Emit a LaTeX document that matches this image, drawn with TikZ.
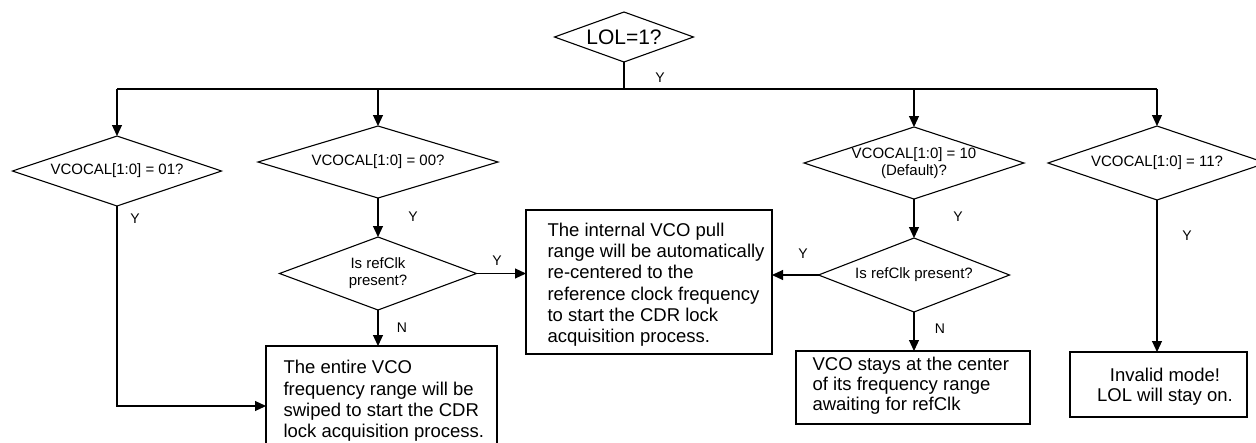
\documentclass[tikz,border=0pt]{standalone}
\usepackage{fontspec}
\setmainfont{Liberation Sans}
\usetikzlibrary{shapes.geometric,arrows.meta}
\begin{document}
\begin{tikzpicture}[x=1pt,y=-1pt,
  line width=1.1pt,
  dia/.style={draw, shape=diamond, inner sep=0pt, outer sep=0pt, font=\fontsize{15}{17}\selectfont, align=center},
  boxn/.style={draw, rectangle, inner sep=0pt, outer sep=0pt, anchor=north west},
  btext/.style={inner sep=0pt, anchor=north west, align=left, font=\fontsize{18.5}{22}\selectfont},
  lbl/.style={inner sep=0pt, font=\fontsize{14}{14}\selectfont},
  arr/.style={-{Triangle[length=11pt,width=10pt]}},
]
\useasboundingbox (0,0) rectangle (1256,442);
\clip (0,0) rectangle (1256,442);

% decisions
\node[dia, minimum width=139pt, minimum height=50pt, aspect=2.78, font=\fontsize{21}{22}\selectfont] (d0) at (624,37) {LOL=1?};
\node[dia, minimum width=209pt, minimum height=70pt, aspect=2.99] (d1) at (117,171) {VCOCAL[1:0] = 01?};
\node[dia, minimum width=240pt, minimum height=72pt, aspect=3.33] (d2) at (378,162) {VCOCAL[1:0] = 00?};
\node[dia, minimum width=197pt, minimum height=73pt, aspect=2.7] (d3) at (378,273.5) {Is refClk\\present?};
\node[dia, minimum width=220pt, minimum height=72pt, aspect=3.06] (d4) at (914,163) {VCOCAL[1:0] = 10\\(Default)?};
\node[dia, minimum width=191pt, minimum height=74pt, aspect=2.58] (d5) at (914,275) {Is refClk present?};
\node[dia, minimum width=218pt, minimum height=74pt, aspect=2.95] (d6) at (1157,163) {VCOCAL[1:0] = 11?};

% process boxes
\node[boxn, minimum width=231pt, minimum height=100pt] (b1) at (266,346) {};
\node[boxn, minimum width=246pt, minimum height=144pt] (b2) at (526,210) {};
\node[boxn, minimum width=234pt, minimum height=73pt] (b3) at (796,351) {};
\node[boxn, minimum width=177pt, minimum height=65pt] (b4) at (1070,352) {};

\node[btext, font=\fontsize{18.5}{21.3}\selectfont] (t1) at (283,360) {The entire VCO\\frequency range will be\\swiped to start the CDR\\lock acquisition process.};
\node[btext, font=\fontsize{18.5}{21.2}\selectfont] (t2) at (547,222.5) {The internal VCO pull\\range will be automatically\\re-centered to the\\reference clock frequency\\to start the CDR lock\\acquisition process.};
\node[btext, font=\fontsize{18.5}{20}\selectfont] (t3) at (812,356.5) {VCO stays at the center\\of its frequency range\\awaiting for refClk};
\node[inner sep=0pt, align=center, font=\fontsize{18.5}{20}\selectfont] (t4) at (1165,386.5) {Invalid mode!\\LOL will stay on.};

% labels
\node[lbl] (y0) at (660,78) {Y};
\node[lbl] (y1) at (135,219) {Y};
\node[lbl] (y2) at (413,217) {Y};
\node[lbl] (y3) at (497,261) {Y};
\node[lbl] (n3) at (402,328) {N};
\node[lbl] (y4) at (958,217) {Y};
\node[lbl] (y5) at (803,254) {Y};
\node[lbl] (n5) at (940,329) {N};
\node[lbl] (y6) at (1187,236) {Y};

% connectors
\coordinate (bm) at (624,89);
\coordinate (k1) at (117,406);
\draw (d0.south) -- (bm);
\draw (d1.north |- bm) -- (d6.north |- bm);
\draw[arr] (d1.north |- bm) -- (d1.north);
\draw[arr] (d2.north |- bm) -- (d2.north);
\draw[arr] (d4.north |- bm) -- (d4.north);
\draw[arr] (d6.north |- bm) -- (d6.north);
\draw[arr] (d1.south) |- (k1 -| b1.west);
\draw[arr] (d2.south) -- (d3.north);
\draw[arr] (d3.east) -- (d3.east -| b2.west);
\draw[arr] (d3.south) -- (d3.south |- b1.north);
\draw[arr] (d4.south) -- (d5.north);
\draw[arr] (d5.west) -- (d5.west -| b2.east);
\draw[arr] (d5.south) -- (d5.south |- b3.north);
\draw[arr] (d6.south) -- (d6.south |- b4.north);
\end{tikzpicture}
\end{document}
